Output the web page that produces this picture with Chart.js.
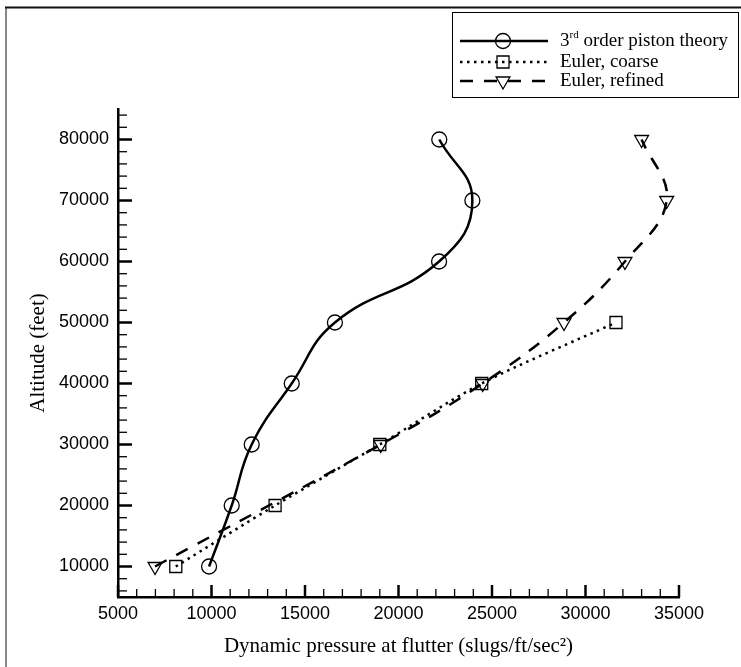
<!DOCTYPE html>
<html lang="en">
<head>
    <meta charset="UTF-8">
    <title>Flutter dynamic pressure vs altitude</title>
    <script src="https://cdn.jsdelivr.net/npm/chart.js@4.4.0/dist/chart.umd.min.js"></script>
    <style>
        body { margin: 0; background: #fff; }
    </style>
</head>
<body>
    <canvas id="flutterChart" width="741" height="667"></canvas>

    <script>
        // data
        const pistonAlt = [10000, 20000, 30000, 40000, 50000, 60000, 70000, 80000];
        const pistonQ = [9870, 11080, 12150, 14290, 16600, 22170, 23950, 22180];

        const coarseAlt = [10000, 20000, 30000, 40000, 50000];
        const coarseQ = [8090, 13400, 19000, 24450, 31630];

        const refinedAlt = [10000, 30000, 40000, 50000, 60000, 70000, 80000];
        const refinedQ = [6980, 19050, 24500, 28850, 32110, 34340, 33000];

        const xTickLabels = [5000, 10000, 15000, 20000, 25000, 30000, 35000];
        const yTickLabels = [10000, 20000, 30000, 40000, 50000, 60000, 70000, 80000];

        const seriesNames = ['3rd order piston theory', 'Euler, coarse', 'Euler, refined'];

        const toPoints = (xs, ys) => xs.map((x, i) => ({ x: x, y: ys[i] }));

        const sans = '"Liberation Sans", Arial, sans-serif';
        const serif = '"Liberation Serif", "Times New Roman", serif';

        // inward tick marks, major + minor
        const tickMarks = {
            id: 'tickMarks',
            afterDraw(chart) {
                const ctx = chart.ctx;
                const xs = chart.scales.x, ys = chart.scales.y;
                const a = chart.chartArea;
                ctx.save();
                ctx.strokeStyle = '#000';
                ctx.setLineDash([]);
                for (let v = xs.min; v <= xs.max; v += 1000) {
                    const major = v % 5000 === 0;
                    const px = xs.getPixelForValue(v);
                    ctx.lineWidth = major ? 2.5 : 1.3;
                    ctx.beginPath();
                    ctx.moveTo(px, a.bottom);
                    ctx.lineTo(px, a.bottom - (major ? 12 : 8));
                    ctx.stroke();
                }
                for (let v = 6000; v < ys.max; v += 2000) {
                    const major = v % 10000 === 0;
                    const py = ys.getPixelForValue(v);
                    ctx.lineWidth = major ? 2.5 : 1.3;
                    ctx.beginPath();
                    ctx.moveTo(a.left, py);
                    ctx.lineTo(a.left + (major ? 14 : 9), py);
                    ctx.stroke();
                }
                ctx.restore();
            }
        };

        // legend box with superscript + outer frame
        const legendBox = {
            id: 'legendBox',
            afterDraw(chart) {
                const ctx = chart.ctx;
                ctx.save();
                // frame (top + left only)
                ctx.setLineDash([]);
                ctx.lineWidth = 2;
                ctx.strokeStyle = '#888';
                ctx.beginPath();
                ctx.moveTo(6, 7);
                ctx.lineTo(6, 667);
                ctx.stroke();
                ctx.strokeStyle = '#111';
                ctx.beginPath();
                ctx.moveTo(5, 7.5);
                ctx.lineTo(741, 7.5);
                ctx.stroke();

                // box
                ctx.lineWidth = 1;
                ctx.strokeStyle = '#000';
                ctx.strokeRect(452.5, 12.5, 286, 85);

                const rows = [41, 62, 81];
                chart.data.datasets.forEach((ds, i) => {
                    const y = rows[i];
                    ctx.strokeStyle = '#000';
                    ctx.lineWidth = ds.borderWidth;
                    ctx.setLineDash(ds.borderDash || []);
                    ctx.beginPath();
                    ctx.moveTo(460, y);
                    ctx.lineTo(548, y);
                    ctx.stroke();
                    ctx.setLineDash([]);
                    ctx.lineWidth = ds.pointBorderWidth;
                    ctx.fillStyle = 'rgba(0,0,0,0)';
                    Chart.helpers.drawPoint(ctx, {
                        pointStyle: ds.pointStyle,
                        rotation: ds.pointRotation || 0,
                        radius: ds.pointRadius,
                        borderWidth: ds.pointBorderWidth
                    }, 503, y);

                    ctx.fillStyle = '#000';
                    ctx.textBaseline = 'middle';
                    ctx.textAlign = 'left';
                    ctx.font = '19px ' + serif;
                    if (i === 0) {
                        ctx.fillText('3', 560, y);
                        const w3 = ctx.measureText('3').width;
                        ctx.font = '11px ' + serif;
                        ctx.fillText('rd', 560 + w3, y - 6);
                        const wrd = ctx.measureText('rd').width;
                        ctx.font = '19px ' + serif;
                        ctx.fillText(' order piston theory', 560 + w3 + wrd, y);
                    } else {
                        ctx.fillText(ds.label, 560, y);
                    }
                });
                ctx.restore();
            }
        };

        const ctx = document.getElementById('flutterChart').getContext('2d');
        new Chart(ctx, {
            type: 'scatter',
            data: {
                datasets: [
                    {
                        label: seriesNames[0],
                        data: toPoints(pistonQ, pistonAlt),
                        showLine: true,
                        tension: 0.45,
                        borderColor: '#000',
                        borderWidth: 2.5,
                        pointStyle: 'circle',
                        pointRadius: 7.5,
                        pointBorderWidth: 1.3,
                        pointBorderColor: '#000',
                        pointBackgroundColor: 'rgba(0,0,0,0)'
                    },
                    {
                        label: seriesNames[1],
                        data: toPoints(coarseQ, coarseAlt),
                        showLine: true,
                        tension: 0.3,
                        borderColor: '#000',
                        borderWidth: 2.5,
                        borderDash: [2.5, 4.5],
                        pointStyle: 'rect',
                        pointRadius: 8.5,
                        pointBorderWidth: 1.3,
                        pointBorderColor: '#000',
                        pointBackgroundColor: 'rgba(0,0,0,0)'
                    },
                    {
                        label: seriesNames[2],
                        data: toPoints(refinedQ, refinedAlt),
                        showLine: true,
                        tension: 0.4,
                        borderColor: '#000',
                        borderWidth: 2.5,
                        borderDash: [13, 11],
                        pointStyle: 'triangle',
                        pointRotation: 180,
                        pointRadius: 8,
                        pointBorderWidth: 1.3,
                        pointBorderColor: '#000',
                        pointBackgroundColor: 'rgba(0,0,0,0)'
                    }
                ]
            },
            options: {
                responsive: false,
                animation: false,
                layout: { padding: { left: 0, right: 62, top: 109, bottom: 0 } },
                plugins: {
                    legend: { display: false },
                    tooltip: { enabled: false }
                },
                scales: {
                    x: {
                        type: 'linear',
                        min: 5000,
                        max: 35000,
                        grid: { display: false, drawTicks: false },
                        border: { display: true, color: '#000', width: 2.5 },
                        ticks: {
                            padding: 6,
                            color: '#000',
                            maxRotation: 0,
                            autoSkip: false,
                            font: { family: sans, size: 18 },
                            callback: v => String(v)
                        },
                        afterBuildTicks: s => { s.ticks = xTickLabels.map(v => ({ value: v })); },
                        afterFit: s => { s.height = 70; },
                        title: {
                            display: true,
                            text: 'Dynamic pressure at flutter (slugs/ft/sec²)',
                            color: '#000',
                            font: { family: serif, size: 21 },
                            padding: { top: 0, bottom: 8 }
                        }
                    },
                    y: {
                        type: 'linear',
                        min: 5000,
                        max: 85000,
                        grid: { display: false, drawTicks: false },
                        border: { display: true, color: '#000', width: 2.5 },
                        ticks: {
                            padding: 9,
                            color: '#000',
                            autoSkip: false,
                            font: { family: sans, size: 18 },
                            callback: v => String(v)
                        },
                        afterBuildTicks: s => { s.ticks = yTickLabels.map(v => ({ value: v })); },
                        afterFit: s => { s.width = 118; },
                        title: {
                            display: true,
                            text: 'Altitude (feet)',
                            color: '#000',
                            font: { family: serif, size: 21 },
                            padding: { top: 26, bottom: 0 }
                        }
                    }
                }
            },
            plugins: [tickMarks, legendBox]
        });
    </script>
</body>
</html>
